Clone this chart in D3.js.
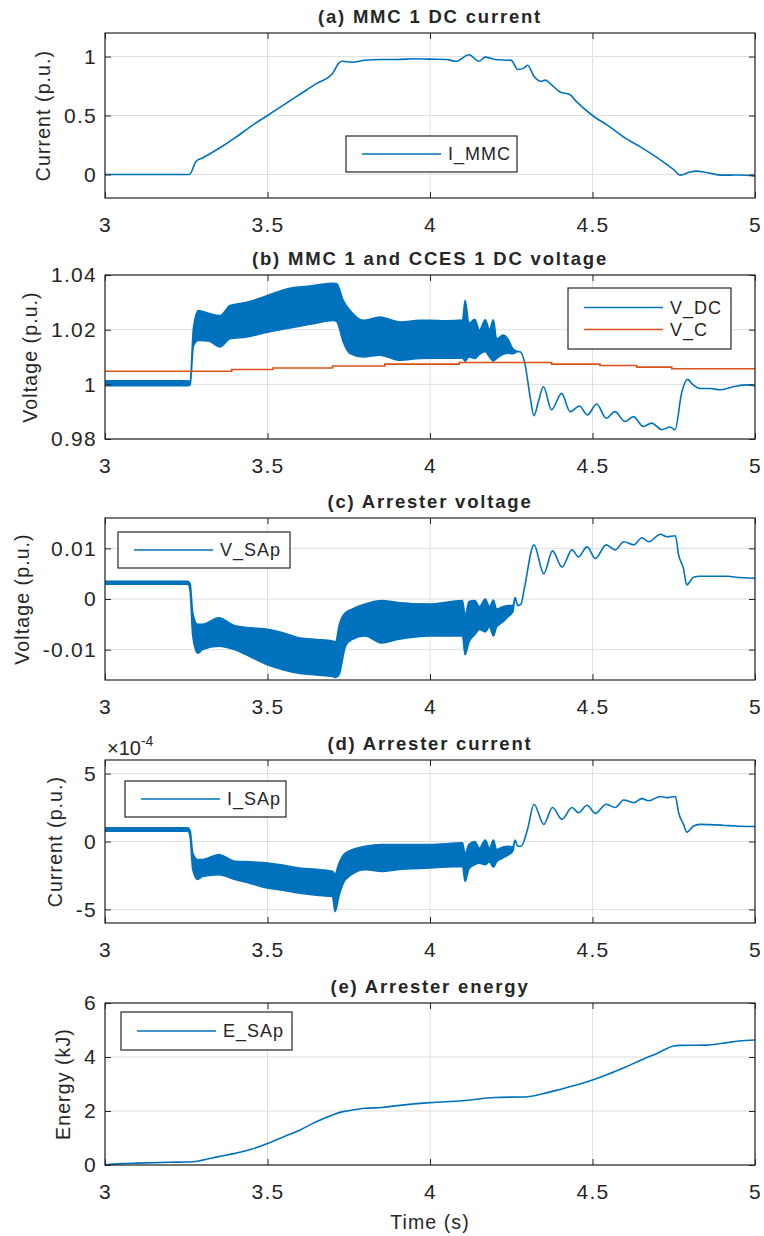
<!DOCTYPE html>
<html lang="en">
<head>
<meta charset="UTF-8">
<title>MMC / CCES / arrester traces</title>
<script src="https://d3js.org/d3.v7.min.js"></script>
<style>
    body { margin: 0; background: #fff; }
    svg text { font-family: "Liberation Sans", Arial, Helvetica, sans-serif; fill: #262626; }
    .tick text { font-size: 21px; letter-spacing: 1.3px; }
    .title { font-size: 18.5px; font-weight: bold; letter-spacing: 1.8px; }
    .ylabel { font-size: 19.5px; letter-spacing: 1.1px; }
    .legend_text { font-size: 18px; letter-spacing: 1px; }
</style>
</head>
<body>
<svg width="764" height="1236"></svg>
<script>
    // ---- data (time in s) ----
    const xTicks = [3, 3.5, 4, 4.5, 5];

    // (a) MMC 1 DC current, p.u.
    const tA = [3.0, 3.1, 3.2, 3.26, 3.28, 3.3, 3.35, 3.4, 3.45, 3.5, 3.55, 3.6, 3.65, 3.7, 3.72, 3.73, 3.76, 3.8,
        3.85, 3.9, 3.95, 4.0, 4.05, 4.08, 4.12, 4.15, 4.17, 4.2, 4.25, 4.27, 4.29, 4.3, 4.32, 4.34, 4.355, 4.37,
        4.4, 4.43, 4.45, 4.5, 4.55, 4.6, 4.65, 4.7, 4.75, 4.77, 4.8, 4.82, 4.85, 4.9, 4.95, 5.0];
    const iMMC = [0, 0, 0, 0, 0.11, 0.14, 0.22, 0.31, 0.41, 0.5, 0.59, 0.68, 0.77, 0.856, 0.946, 0.96, 0.952, 0.969,
        0.975, 0.975, 0.982, 0.978, 0.975, 0.96, 1.015, 0.96, 0.995, 0.975, 0.968, 0.89, 0.904, 0.926, 0.833, 0.79, 0.80, 0.771,
        0.70, 0.678, 0.62, 0.5, 0.41, 0.31, 0.23, 0.14, 0.04, -0.006, 0.02, 0.028, 0.017, -0.006, -0.005, -0.014];

    // (b) V_DC envelope (lo/hi; hi null where the trace is a single line) and V_C steps
    const tB = [3.0, 3.255, 3.262, 3.272, 3.287, 3.318, 3.354, 3.385, 3.436, 3.5, 3.559, 3.641, 3.703, 3.713, 3.733,
        3.754, 3.795, 3.846, 3.908, 3.969, 4.0, 4.05, 4.1, 4.108, 4.12, 4.138, 4.152, 4.17, 4.183, 4.195, 4.205,
        4.225, 4.24, 4.255, 4.27, 4.277, 4.292, 4.308, 4.32, 4.333, 4.349, 4.374, 4.405, 4.431, 4.46, 4.484, 4.513,
        4.542, 4.569, 4.6, 4.626, 4.656, 4.682, 4.713, 4.738, 4.754, 4.774, 4.792, 4.81, 4.831, 4.862, 4.892,
        4.933, 4.974, 5.0];
    const vdcLo = [0.9995, 0.9995, 0.9998, 1.014, 1.0161, 1.0159, 1.0137, 1.0167, 1.0173, 1.0191, 1.0204, 1.0222, 1.0234, 1.023, 1.0155,
        1.0113, 1.010, 1.0107, 1.0088, 1.0095, 1.0096, 1.0096, 1.0096, 1.0085, 1.0100, 1.0095, 1.0110, 1.0120, 1.0100, 1.0085, 1.0095,
        1.0110, 1.0114, 1.0112, 1.012, 1.0119, 1.0076, 0.9955, 0.9885, 0.9935, 0.9991, 0.9907, 0.9967, 0.990, 0.9921, 0.9888, 0.9928,
        0.9876, 0.990, 0.9864, 0.9882, 0.9846, 0.9858, 0.9834, 0.9844, 0.9834, 0.9967, 1.0018, 0.9998, 0.9985, 0.9985, 0.998,
        0.9991, 0.9998, 0.9995];
    const vdcHi = [1.0013, 1.0013, 1.001, 1.0204, 1.027, 1.026, 1.0252, 1.0288, 1.030, 1.0325, 1.0349, 1.0361, 1.037, 1.0368, 1.0307,
        1.027, 1.0234, 1.0246, 1.0228, 1.0234, 1.0234, 1.0232, 1.0235, 1.0307, 1.0223, 1.0238, 1.0198, 1.0236, 1.0200, 1.0236, 1.0165,
        1.0180, 1.0165, 1.0130, null, null, null, null, null, null, null, null, null, null, null, null, null,
        null, null, null, null, null, null, null, null, null, null, null, null, null, null, null,
        null, null, null];
    const tVC = [3.0, 3.39, 3.517, 3.70, 3.861, 4.09, 4.374, 4.523, 4.636, 4.744, 5.0];
    const vC = [1.0048, 1.0054, 1.006, 1.0067, 1.0074, 1.008, 1.0074, 1.0069, 1.0063, 1.0057, 1.0057];

    // (c) arrester voltage envelope, p.u.
    const tC = [3.0, 3.255, 3.262, 3.27, 3.285, 3.3, 3.35, 3.4, 3.45, 3.5, 3.55, 3.6, 3.65, 3.7, 3.71, 3.72, 3.74, 3.76,
        3.8, 3.852, 3.9, 4.0, 4.1, 4.108, 4.12, 4.138, 4.152, 4.17, 4.183, 4.195, 4.205, 4.225, 4.24, 4.255, 4.262,
        4.27, 4.28, 4.29, 4.32, 4.35, 4.377, 4.406, 4.437, 4.457, 4.483, 4.509, 4.542, 4.57, 4.596, 4.627, 4.652,
        4.673, 4.709, 4.729, 4.755, 4.765, 4.78, 4.79, 4.811, 4.83, 4.877, 4.918, 4.94, 5.0];
    const vsapLo = [0.0029, 0.0029, 0.0015, -0.0073, -0.0107, -0.010, -0.0093, -0.010, -0.0115, -0.013, -0.014, -0.0147, -0.015, -0.0153, -0.0155, -0.015, -0.0093, -0.008,
        -0.0073, -0.0087, -0.008, -0.0073, -0.0073, -0.011, -0.0085, -0.0070, -0.0060, -0.0065, -0.0055, -0.0073, -0.0055, -0.0045, -0.0035, -0.0025, 0.0003,
        -0.0013, -0.001, 0.002, 0.0107, 0.005, 0.0095, 0.0063, 0.0097, 0.0083, 0.0103, 0.008, 0.0107, 0.0097, 0.0113, 0.0107, 0.0121,
        0.0113, 0.0128, 0.0123, 0.0125, 0.0087, 0.006, 0.0028, 0.0043, 0.0045, 0.0045, 0.0045, 0.0043, 0.0041];
    const vsapHi = [0.0035, 0.0035, 0.0030, -0.0027, -0.005, -0.005, -0.0037, -0.0053, -0.0057, -0.006, -0.0067, -0.0077, -0.008, -0.0083, -0.0085, -0.0053, -0.0027, -0.002,
        -0.001, -0.0003, -0.0007, -0.001, -0.0003, -0.0033, -0.0005, -0.0003, -0.0015, 0.0, -0.0015, -0.0002, -0.0020, -0.0015, -0.0013, -0.0013, null,
        null, null, null, null, null, null, null, null, null, null, null, null, null, null, null, null,
        null, null, null, null, null, null, null, null, null, null, null, null, null];

    // (d) arrester current envelope, in units of 1e-4 p.u.
    const tD = [3.0, 3.255, 3.262, 3.27, 3.285, 3.3, 3.35, 3.4, 3.45, 3.5, 3.55, 3.6, 3.65, 3.7, 3.708, 3.72, 3.74,
        3.8, 3.852, 3.9, 4.0, 4.1, 4.108, 4.12, 4.138, 4.152, 4.17, 4.183, 4.195, 4.205, 4.225, 4.24, 4.255, 4.262,
        4.27, 4.28, 4.3, 4.32, 4.35, 4.377, 4.406, 4.437, 4.457, 4.483, 4.509, 4.542, 4.57, 4.596, 4.627, 4.652,
        4.673, 4.709, 4.729, 4.755, 4.765, 4.78, 4.79, 4.811, 4.83, 4.9, 4.94, 5.0];
    const isapLo = [0.75, 0.75, 0.3, -2.07, -2.8, -2.57, -2.44, -2.8, -3.1, -3.43, -3.6, -3.8, -3.95, -4.05, -5.16, -4.0, -2.8,
        -2.07, -2.2, -2.07, -1.95, -1.83, -2.94, -2.0, -1.7, -1.6, -1.7, -1.5, -1.9, -1.5, -1.2, -1.0, -0.7, 0.1,
        -0.35, -0.35, 0.89, 2.74, 1.26, 2.5, 1.63, 2.5, 2.12, 2.67, 2.07, 2.74, 2.5, 3.06, 2.86, 3.16,
        3.0, 3.31, 3.23, 3.31, 2.12, 1.26, 0.69, 1.14, 1.26, 1.2, 1.14, 1.1];
    const isapHi = [1.0, 1.0, 0.8, -0.84, -1.33, -1.33, -0.96, -1.46, -1.5, -1.58, -1.75, -1.95, -2.05, -2.2, -2.4, -1.6, -0.84,
        -0.35, -0.22, -0.22, -0.22, -0.1, -0.9, -0.2, 0.0, -0.5, 0.1, -0.5, 0.1, -0.6, -0.4, -0.35, -0.4, null,
        null, null, null, null, null, null, null, null, null, null, null, null, null, null, null, null,
        null, null, null, null, null, null, null, null, null, null, null, null];

    // (e) arrester energy, kJ
    const tE = [3.0, 3.05, 3.1, 3.2, 3.27, 3.3, 3.35, 3.4, 3.45, 3.5, 3.55, 3.6, 3.65, 3.7, 3.72, 3.75, 3.8, 3.85, 3.9,
        4.0, 4.1, 4.2, 4.3, 4.35, 4.4, 4.45, 4.5, 4.55, 4.6, 4.65, 4.7, 4.75, 4.77, 4.85, 4.9, 4.95, 5.0];
    const eSAp = [0, 0.05, 0.07, 0.1, 0.12, 0.18, 0.31, 0.43, 0.58, 0.8, 1.05, 1.3, 1.6, 1.85, 1.94, 2.01, 2.1, 2.13, 2.2,
        2.31, 2.38, 2.5, 2.53, 2.65, 2.8, 2.96, 3.15, 3.37, 3.62, 3.89, 4.14, 4.41, 4.43, 4.44, 4.51, 4.59, 4.63];

    const titles = ["(a) MMC 1 DC current", "(b) MMC 1 and CCES 1 DC voltage", "(c) Arrester voltage",
        "(d) Arrester current", "(e) Arrester energy"];
    const yLabels = ["Current (p.u.)", "Voltage (p.u.)", "Voltage (p.u.)", "Current (p.u.)", "Energy (kJ)"];

    const blue = "#0072bd", orange = "#d95319", ink = "#262626", gridColor = "#dfdfdf";

    const panels = [
        { top: 33, bottom: 198, domain: [-0.2, 1.2], ticks: [0, 0.5, 1],
          series: [{ t: tA, lo: iMMC, color: blue, name: "I_MMC" }],
          legend: { x: 346, y: 136, w: 171, h: 36 } },
        { top: 275, bottom: 439, domain: [0.98, 1.04], ticks: [0.98, 1, 1.02, 1.04],
          series: [{ t: tB, lo: vdcLo, hi: vdcHi, color: blue, name: "V_DC" },
                   { t: tVC, lo: vC, color: orange, name: "V_C", step: true }],
          legend: { x: 568, y: 288, w: 163, h: 61 } },
        { top: 518, bottom: 680, domain: [-0.016, 0.016], ticks: [-0.01, 0, 0.01],
          series: [{ t: tC, lo: vsapLo, hi: vsapHi, color: blue, name: "V_SAp" }],
          legend: { x: 118, y: 532, w: 172, h: 36 } },
        { top: 760, bottom: 923, domain: [-6, 6], ticks: [-5, 0, 5], exponent: "-4",
          series: [{ t: tD, lo: isapLo, hi: isapHi, color: blue, name: "I_SAp" }],
          legend: { x: 125, y: 781, w: 161, h: 36 } },
        { top: 1003, bottom: 1165, domain: [0, 6], ticks: [0, 2, 4, 6],
          series: [{ t: tE, lo: eSAp, color: blue, name: "E_SAp" }],
          legend: { x: 121, y: 1012, w: 171, h: 38 } }
    ];

    const left = 105, right = 755;
    const svg = d3.select("svg");
    const x = d3.scaleLinear().domain([3, 5]).range([left, right]);
    const fmt = v => String(+v.toFixed(6));

    panels.forEach(function (p, k) {
        const y = d3.scaleLinear().domain(p.domain).range([p.bottom, p.top]);
        const g = svg.append("g");

        // grid
        g.append("g").selectAll("line").data(xTicks).enter().append("line")
            .attr("x1", d => x(d)).attr("x2", d => x(d))
            .attr("y1", p.top).attr("y2", p.bottom)
            .attr("stroke", gridColor).attr("stroke-width", 1);
        g.append("g").selectAll("line").data(p.ticks).enter().append("line")
            .attr("x1", left).attr("x2", right)
            .attr("y1", d => y(d)).attr("y2", d => y(d))
            .attr("stroke", gridColor).attr("stroke-width", 1);

        // traces
        const clipId = "clip" + k;
        svg.append("clipPath").attr("id", clipId).append("rect")
            .attr("x", left).attr("y", p.top).attr("width", right - left).attr("height", p.bottom - p.top);
        const plot = g.append("g").attr("clip-path", "url(#" + clipId + ")");
        p.series.forEach(function (s) {
            const idx = d3.range(s.t.length);
            if (s.step) {
                plot.append("path")
                    .attr("d", d3.line().x(i => x(s.t[i])).y(i => y(s.lo[i])).curve(d3.curveStepAfter)(idx))
                    .attr("fill", "none").attr("stroke", s.color).attr("stroke-width", 1.6);
            } else {
                const hi = s.hi || [];
                plot.append("path")
                    .attr("d", d3.area().x(i => x(s.t[i]))
                        .y0(i => y(s.lo[i]))
                        .y1(i => y(hi[i] == null ? s.lo[i] : hi[i]))
                        .curve(d3.curveMonotoneX)(idx))
                    .attr("fill", s.color).attr("stroke", s.color)
                    .attr("stroke-width", 1.6).attr("stroke-linejoin", "round");
            }
        });

        // axes with inward ticks on all four sides
        g.append("g").attr("transform", "translate(0," + p.bottom + ")")
            .call(d3.axisBottom(x).tickValues(xTicks).tickFormat(fmt).tickSizeInner(-6).tickSizeOuter(0).tickPadding(19));
        g.append("g").attr("transform", "translate(0," + p.top + ")")
            .call(d3.axisTop(x).tickValues(xTicks).tickFormat("").tickSizeInner(-6).tickSizeOuter(0));
        const yl = g.append("g").attr("transform", "translate(" + left + ",0)")
            .call(d3.axisLeft(y).tickValues(p.ticks).tickFormat(fmt).tickSizeInner(-6).tickSizeOuter(0).tickPadding(8));
        g.append("g").attr("transform", "translate(" + right + ",0)")
            .call(d3.axisRight(y).tickValues(p.ticks).tickFormat("").tickSizeInner(-6).tickSizeOuter(0));
        g.selectAll(".domain").remove();
        g.selectAll(".tick line").attr("stroke", ink);
        g.selectAll(".tick text").attr("fill", ink).attr("font-size", null).attr("font-family", null);

        g.append("rect").attr("x", left).attr("y", p.top)
            .attr("width", right - left).attr("height", p.bottom - p.top)
            .attr("fill", "none").attr("stroke", ink).attr("stroke-width", 1.2);

        // title and y label
        g.append("text").attr("class", "title").attr("x", (left + right) / 2).attr("y", p.top - 10)
            .attr("text-anchor", "middle").text(titles[k]);
        let minX = 0;
        yl.selectAll(".tick text").each(function () {
            minX = Math.min(minX, this.getBBox().x);
        });
        const ly = (p.top + p.bottom) / 2;
        g.append("text").attr("class", "ylabel")
            .attr("transform", "translate(" + (left + minX - 14) + "," + ly + ") rotate(-90)")
            .attr("text-anchor", "middle").text(yLabels[k]);

        if (p.exponent) {
            const ex = g.append("text").attr("x", left + 2).attr("y", p.top - 5).attr("font-size", 20);
            ex.append("tspan").text("\u00d710");
            ex.append("tspan").attr("font-size", 14).attr("dy", -9).text(p.exponent);
        }

        // legend
        const L = p.legend;
        const lg = g.append("g");
        lg.append("rect").attr("x", L.x).attr("y", L.y).attr("width", L.w).attr("height", L.h)
            .attr("fill", "#fff").attr("stroke", ink).attr("stroke-width", 1.2);
        const rowH = 22;
        const y0 = L.y + L.h / 2 - (p.series.length - 1) * rowH / 2;
        p.series.forEach(function (s, j) {
            const ry = y0 + j * rowH;
            lg.append("line").attr("x1", L.x + 16).attr("x2", L.x + 95).attr("y1", ry).attr("y2", ry)
                .attr("stroke", s.color).attr("stroke-width", 1.6);
            lg.append("text").attr("class", "legend_text").attr("x", L.x + 102).attr("y", ry)
                .attr("dy", "0.35em").text(s.name);
        });

        if (k === panels.length - 1) {
            g.append("text").attr("class", "ylabel").attr("x", (left + right) / 2).attr("y", p.bottom + 64)
                .attr("text-anchor", "middle").text("Time (s)");
        }
    });
</script>
</body>
</html>
